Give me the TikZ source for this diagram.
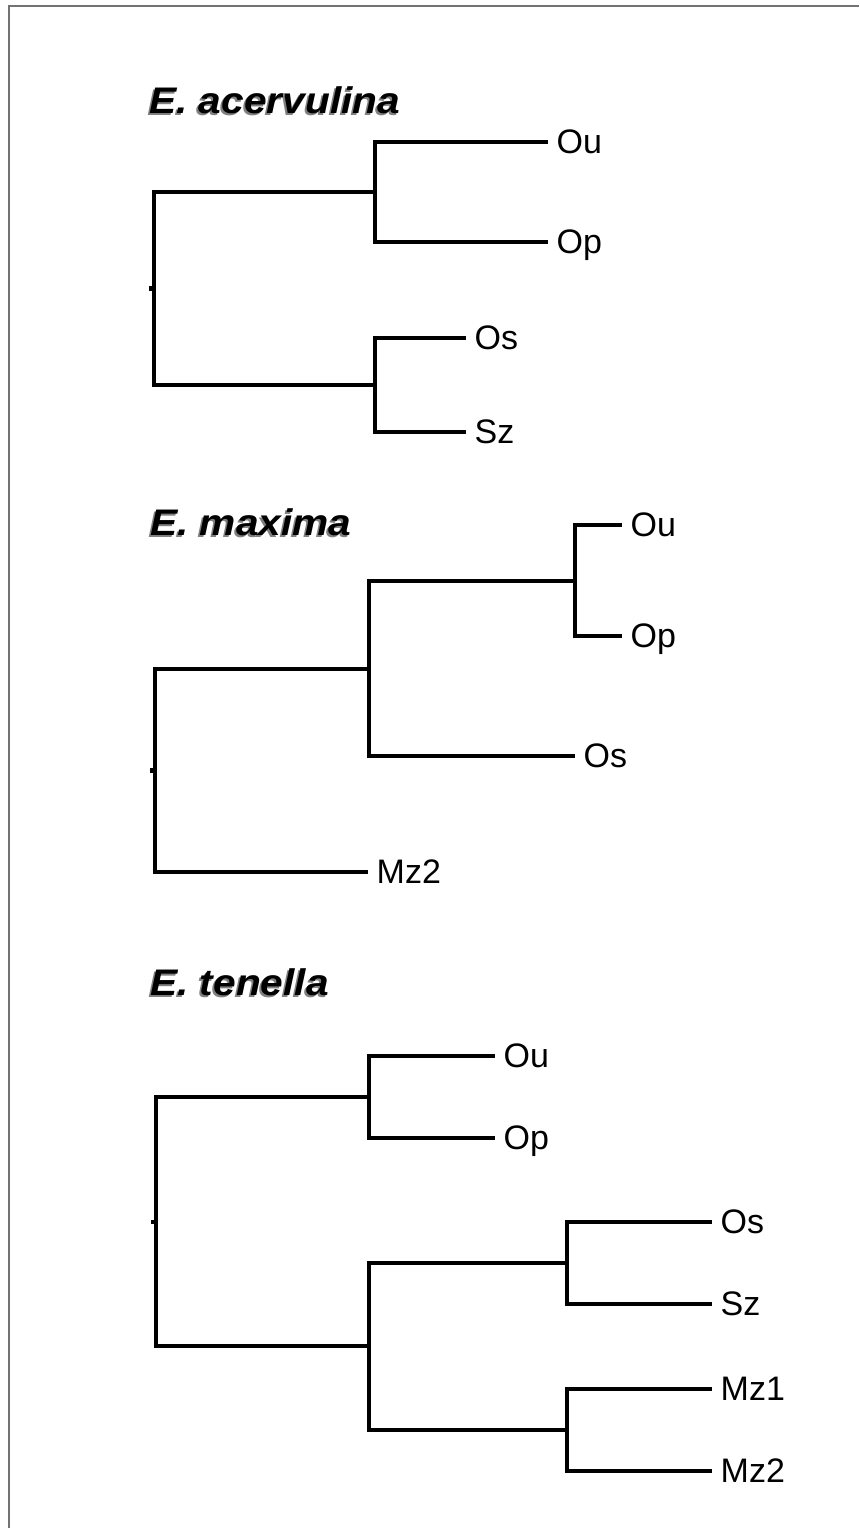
\documentclass[tikz,border=0pt]{standalone}
\usepackage{fontspec}
\setmainfont{Liberation Sans}
\newfontfamily\titlefont[FakeStretch=1.1]{Liberation Sans}
\tikzset{
  branch/.style={line width=4.6pt, line join=miter, line cap=butt},
  leaf/.style={anchor=west, inner xsep=8.5pt, inner ysep=0pt, text depth=0pt,
    font=\fontsize{34}{34}\selectfont},
  title/.style={anchor=base west, inner sep=0pt,
    font=\titlefont\bfseries\itshape\fontsize{37}{37}\selectfont},
  shadow/.style={title, text=black!50},
  frame/.style={line width=2pt, draw=black!55},
}
\begin{document}
\begin{tikzpicture}[x=1pt, y=-1pt]
\useasboundingbox (0,0) rectangle (859,1528);
\draw[frame] (9,1528) -- (9,6) -- (859,6);

% ---------- E. acervulina ----------
\node[shadow] at (147,115) {E. acervulina};
\node[title] (ttl1) at (149,113) {E. acervulina};
\coordinate (r1) at (154,288.5);
\coordinate (k1) at (149,288.5);
\coordinate (n1a) at (375,192);
\coordinate (n1b) at (375,385);
\node[leaf] (a-ou) at (548,142) {Ou};
\node[leaf] (a-op) at (548,242) {Op};
\node[leaf] (a-os) at (466,338) {Os};
\node[leaf] (a-sz) at (466,432) {Sz};
\draw[branch] (a-ou.west) -| (n1a);
\draw[branch] (a-op.west) -| (n1a);
\draw[branch] (a-os.west) -| (n1b);
\draw[branch] (a-sz.west) -| (n1b);
\draw[branch] (n1a) -| (r1);
\draw[branch] (n1b) -| (r1);
\draw[branch] (r1) -- (k1);

% ---------- E. maxima ----------
\node[shadow] at (148,537) {E. maxima};
\node[title] (ttl2) at (150,535) {E. maxima};
\coordinate (r2) at (155,770.5);
\coordinate (k2) at (150,770.5);
\coordinate (n2a) at (369,669);
\coordinate (n2b) at (575,581);
\node[leaf] (m-ou) at (622,525) {Ou};
\node[leaf] (m-op) at (622,636) {Op};
\node[leaf] (m-os) at (575,756) {Os};
\node[leaf] (m-mz2) at (368,872) {Mz2};
\draw[branch] (m-ou.west) -| (n2b);
\draw[branch] (m-op.west) -| (n2b);
\draw[branch] (n2b) -| (n2a);
\draw[branch] (m-os.west) -| (n2a);
\draw[branch] (n2a) -| (r2);
\draw[branch] (m-mz2.west) -| (r2);
\draw[branch] (r2) -- (k2);

% ---------- E. tenella ----------
\node[shadow] at (148,997) {E. tenella};
\node[title] (ttl3) at (150,995) {E. tenella};
\coordinate (r3) at (156,1222);
\coordinate (k3) at (151,1222);
\coordinate (n3a) at (369,1097);
\coordinate (n3b) at (369,1346);
\coordinate (n3c) at (567,1263);
\coordinate (n3d) at (567,1430);
\node[leaf] (t-ou) at (495,1056) {Ou};
\node[leaf] (t-op) at (495,1138) {Op};
\node[leaf] (t-os) at (712,1222) {Os};
\node[leaf] (t-sz) at (712,1304) {Sz};
\node[leaf] (t-mz1) at (712,1389) {Mz1};
\node[leaf] (t-mz2) at (712,1471) {Mz2};
\draw[branch] (t-ou.west) -| (n3a);
\draw[branch] (t-op.west) -| (n3a);
\draw[branch] (t-os.west) -| (n3c);
\draw[branch] (t-sz.west) -| (n3c);
\draw[branch] (t-mz1.west) -| (n3d);
\draw[branch] (t-mz2.west) -| (n3d);
\draw[branch] (n3c) -| (n3b);
\draw[branch] (n3d) -| (n3b);
\draw[branch] (n3a) -| (r3);
\draw[branch] (n3b) -| (r3);
\draw[branch] (r3) -- (k3);
\end{tikzpicture}
\end{document}
